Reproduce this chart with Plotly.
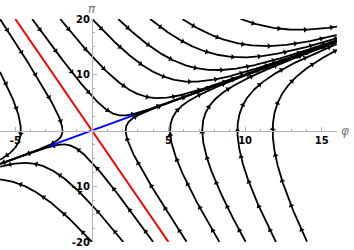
import numpy as np
import plotly.graph_objects as go

# ---- data ----
phi_range = [-6, 16]
pi_range = [-20, 20]
x_ticks = [-5, 5, 10, 15]
y_ticks = [-20, -10, 10, 20]
# vector field: phi' = pi, pi' = 4 phi - 3 pi
field_c = 4.0
field_d = -3.0
# streamline seed points (phi, pi)
seeds_upper_left = [(-6, 20), (-6, 10.5)]
seeds_lower_left = [(0.0, -20), (2.05, -20), (4.0, -20)]
seeds_upper_right = [(-3.9, 20), (-2.07, 20), (0.02, 20), (1.72, 20), (3.8, 20), (5.9, 20), (9.7, 20)]
seeds_lower_right = [(2.2, 0), (5.1, 0), (7.2, 0), (9.5, 0), (11.8, 0)]
red_phi = [-5, 5]          # line pi = -4 phi
red_slope = -4
blue_phi = [-2.75, 2.75]   # line pi = phi
blue_slope = 1

W, H = 354, 250
ml, mr, mt, mb = 0, 17, 19, 8
pw = W - ml - mr
ph = H - mt - mb
sx = pw / (phi_range[1] - phi_range[0])
sy = ph / (pi_range[1] - pi_range[0])


def vel(f, p):
    return p, field_c * f + field_d * p


def trace(f, p, sgn, step=0.4, nmax=6000):
    pts = []
    for _ in range(nmax):
        if not (phi_range[0] - 1e-9 <= f <= phi_range[1] + 1e-9 and pi_range[0] - 1e-9 <= p <= pi_range[1] + 1e-9):
            break
        pts.append((f, p))

        def d(f_, p_):
            u, v = vel(f_, p_)
            ux, vy = u * sx, v * sy
            n = np.hypot(ux, vy) + 1e-12
            return sgn * ux / n / sx, sgn * vy / n / sy
        k1 = d(f, p)
        k2 = d(f + 0.5 * step * k1[0], p + 0.5 * step * k1[1])
        k3 = d(f + 0.5 * step * k2[0], p + 0.5 * step * k2[1])
        k4 = d(f + step * k3[0], p + step * k3[1])
        f += step / 6 * (k1[0] + 2 * k2[0] + 2 * k3[0] + k4[0])
        p += step / 6 * (k1[1] + 2 * k2[1] + 2 * k3[1] + k4[1])
        if abs(f) < 0.02 and abs(p) < 0.05:
            break
    return pts


def streamline(seed):
    b = trace(seed[0], seed[1], -1)[::-1]
    fw = trace(seed[0], seed[1], 1)
    return b[:-1] + fw


fig = go.Figure()
all_seeds = seeds_upper_left + seeds_lower_left + seeds_upper_right + seeds_lower_right
arrow_x, arrow_y, arrow_a = [], [], []
for s in all_seeds:
    pts = streamline(s)
    xs = [q[0] for q in pts]
    ys = [q[1] for q in pts]
    fig.add_trace(go.Scatter(x=xs, y=ys, mode="lines", line=dict(color="black", width=1.8),
                             hoverinfo="skip", showlegend=False))
    acc = 13.0
    for i in range(1, len(pts)):
        dxp = (xs[i] - xs[i - 1]) * sx
        dyp = (ys[i] - ys[i - 1]) * sy
        acc += np.hypot(dxp, dyp)
        if acc >= 26:
            acc = 0
            u, v = vel(xs[i], ys[i])
            ang = np.degrees(np.arctan2(u * sx, v * sy))
            arrow_x.append(xs[i]); arrow_y.append(ys[i]); arrow_a.append(ang)

for seg in ([phi_range[0], blue_phi[0]], [blue_phi[1], phi_range[1]]):
    fig.add_trace(go.Scatter(x=seg, y=[blue_slope * v for v in seg], mode="lines",
                             line=dict(color="black", width=1.8), hoverinfo="skip", showlegend=False))

fig.add_trace(go.Scatter(x=arrow_x, y=arrow_y, mode="markers",
                         marker=dict(symbol="triangle-up", size=5, color="black", angle=arrow_a,
                                     line=dict(width=0)),
                         hoverinfo="skip", showlegend=False))

fig.add_trace(go.Scatter(x=red_phi, y=[red_slope * v for v in red_phi], mode="lines",
                         line=dict(color="#ff0000", width=2), hoverinfo="skip", showlegend=False))
fig.add_trace(go.Scatter(x=blue_phi, y=[blue_slope * v for v in blue_phi], mode="lines",
                         line=dict(color="#0000ff", width=2), hoverinfo="skip", showlegend=False))

axis_col = "#b3b3b3"
fig.update_layout(
    width=W, height=H, margin=dict(l=ml, r=mr, t=mt, b=mb, autoexpand=False),
    paper_bgcolor="white", plot_bgcolor="white",
    font=dict(family="DejaVu Sans", size=10, color="black"),
    xaxis=dict(range=phi_range, anchor="free", position=0.5, showgrid=False, zeroline=False,
               showline=True, linecolor=axis_col, linewidth=1,
               tickvals=x_ticks, ticktext=["<b>%d</b>" % v for v in x_ticks],
               ticks="inside", ticklen=4, tickcolor=axis_col,
               minor=dict(dtick=1, ticks="inside", ticklen=2, tickcolor=axis_col),
               tickfont=dict(size=10, color="black"), fixedrange=True, automargin=False),
    yaxis=dict(range=pi_range, anchor="free", position=(0 - phi_range[0]) / (phi_range[1] - phi_range[0]),
               showgrid=False, zeroline=False,
               showline=True, linecolor=axis_col, linewidth=1,
               tickvals=y_ticks, ticktext=["<b>%d</b>" % v for v in y_ticks],
               ticks="inside", ticklen=4, tickcolor=axis_col,
               minor=dict(dtick=2.5, ticks="inside", ticklen=2, tickcolor=axis_col),
               tickfont=dict(size=10, color="black"), fixedrange=True, automargin=False),
    annotations=[
        dict(x=1.0, y=0.5, xref="paper", yref="paper", text="<i>φ</i>", showarrow=False,
             xanchor="left", yanchor="middle", xshift=2, font=dict(size=12, color="#777777")),
        dict(x=(0 - phi_range[0]) / (phi_range[1] - phi_range[0]), y=1.0, xref="paper", yref="paper",
             text="<i>π</i>", showarrow=False, xanchor="center", yanchor="bottom", yshift=1,
             font=dict(size=12, color="#777777")),
    ],
)
fig.write_html("out.html", config={"displayModeBar": False},
               post_script="document.body.style.margin='0';document.body.style.overflow='hidden';")
